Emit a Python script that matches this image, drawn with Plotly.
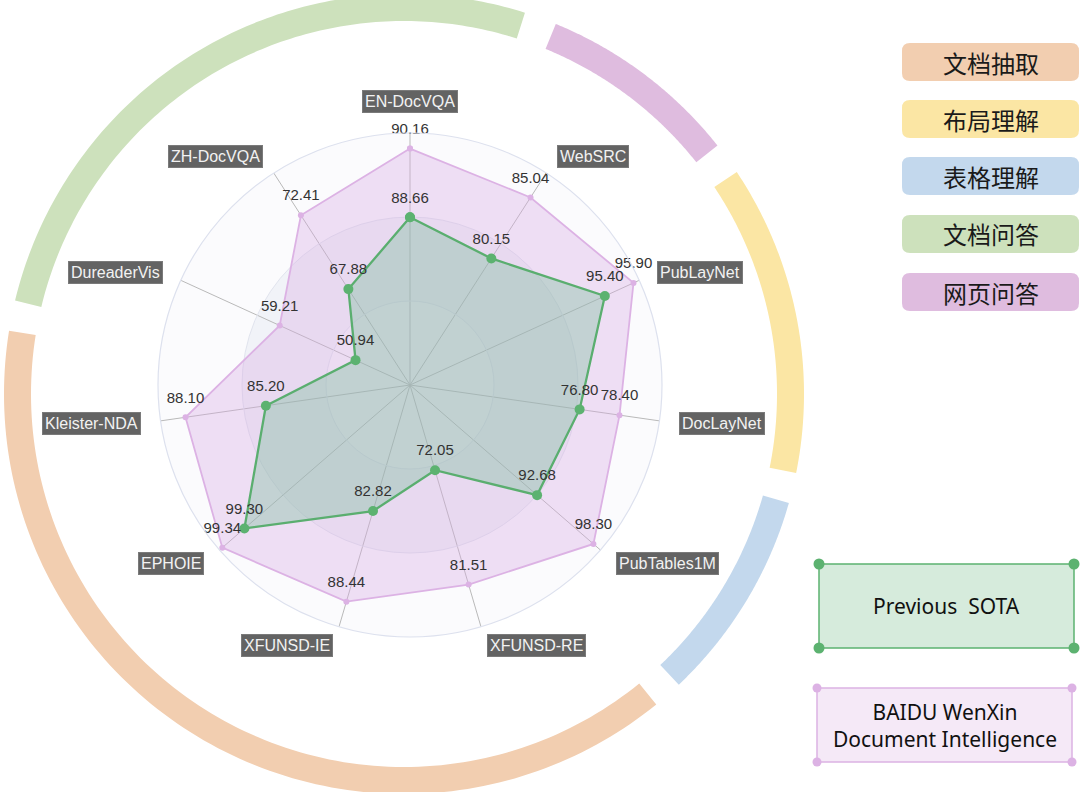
import math
import plotly.graph_objects as go

W, H = 1080, 792

# ---------------- data ----------------
labels = ["EN-DocVQA", "WebSRC", "PubLayNet", "DocLayNet", "PubTables1M", "XFUNSD-RE",
          "XFUNSD-IE", "EPHOIE", "Kleister-NDA", "DureaderVis", "ZH-DocVQA"]
previous_sota = [88.66, 80.15, 95.40, 76.80, 92.68, 72.05, 82.82, 99.30, 85.20, 50.94, 67.88]
wenxin = [90.16, 85.04, 95.90, 78.40, 98.30, 81.51, 88.44, 99.34, 88.10, 59.21, 72.41]
# per-indicator scale (radar indicator min / max)
axis_min = [85, 70, 92, 70, 80, 65, 75, 99.0, 80, 45, 62]
axis_max = [90.5, 87, 96, 80, 99, 85, 90, 99.345, 89, 70, 75]

task_groups = ["文档抽取", "布局理解", "表格理解", "文档问答", "网页问答"]
group_colors = ["#f2ceb0", "#fbe6a4", "#c3d8ed", "#cde1bc", "#dfbcdf"]
group_arc_start = [-50.9, 33.7, -15.8, 166.5, 67.7]
group_arc_end = [-189.1, -11.4, -46.6, 72.4, 38.4]

series_names = ["Previous  SOTA", "BAIDU WenXin<br>Document Intelligence"]

# ---------------- geometry helpers ----------------
CX, CY, R = 410, 385, 252          # radar centre / radius (px)
RCX, RCY, R_OUT, R_IN = 404, 394, 400, 373   # outer category ring


def X(px):
    return px / W


def Y(py):
    return 1 - py / H


def norm(vals):
    return [(v - lo) / (hi - lo) for v, lo, hi in zip(vals, axis_min, axis_max)]


def rounded_rect(x0, y0, x1, y1, rad):
    p = [
        ("M", x0 + rad, y0), ("L", x1 - rad, y0), ("Q", x1, y0, x1, y0 + rad),
        ("L", x1, y1 - rad), ("Q", x1, y1, x1 - rad, y1), ("L", x0 + rad, y1),
        ("Q", x0, y1, x0, y1 - rad), ("L", x0, y0 + rad), ("Q", x0, y0, x0 + rad, y0),
    ]
    out = []
    for seg in p:
        cmd = seg[0]
        coords = seg[1:]
        pts = []
        for i in range(0, len(coords), 2):
            pts.append(f"{X(coords[i]):.5f},{Y(coords[i + 1]):.5f}")
        out.append(cmd + " " + " ".join(pts))
    return " ".join(out) + " Z"


def arc_path(a0, a1, n=120):
    pts = []
    for k in range(n + 1):
        a = math.radians(a0 + (a1 - a0) * k / n)
        pts.append((RCX + R_OUT * math.cos(a), RCY - R_OUT * math.sin(a)))
    for k in range(n, -1, -1):
        a = math.radians(a0 + (a1 - a0) * k / n)
        pts.append((RCX + R_IN * math.cos(a), RCY - R_IN * math.sin(a)))
    s = "M " + " L ".join(f"{X(x):.5f},{Y(y):.5f}" for x, y in pts) + " Z"
    return s


f_prev = norm(previous_sota)
f_wx = norm(wenxin)
theta_closed = labels + [labels[0]]

fig = go.Figure()

# BAIDU WenXin polygon
fig.add_trace(go.Scatterpolar(
    r=f_wx + [f_wx[0]], theta=theta_closed, mode="lines+markers", fill="toself",
    fillcolor="rgba(214,168,226,0.35)", line=dict(color="#dcb2e4", width=1.8),
    marker=dict(size=6, color="#dcb2e4"), name=series_names[1], hoverinfo="skip"))
# Previous SOTA polygon
fig.add_trace(go.Scatterpolar(
    r=f_prev + [f_prev[0]], theta=theta_closed, mode="lines+markers", fill="toself",
    fillcolor="rgba(115,190,150,0.35)", line=dict(color="#5aae6f", width=2.3),
    marker=dict(size=10, color="#5cb270"), name=series_names[0], hoverinfo="skip"))
# value labels
for vals, fv in ((wenxin, f_wx), (previous_sota, f_prev)):
    fig.add_trace(go.Scatterpolar(
        r=fv, theta=labels, mode="markers+text", text=[f"{v:.2f}" for v in vals],
        textposition="top center", marker=dict(size=16, color="rgba(0,0,0,0)"),
        textfont=dict(size=15, color="#333333", family="Liberation Sans, Arial"),
        hoverinfo="skip"))

shapes = []
# split areas (below)
for rr, col in ((R, "#fbfbfd"), (R * 2 / 3, "#f1f3f8"), (R / 3, "#f7f8fb")):
    shapes.append(dict(type="circle", xref="paper", yref="paper", layer="below",
                       x0=X(CX - rr), x1=X(CX + rr), y0=Y(CY + rr), y1=Y(CY - rr),
                       fillcolor=col, line=dict(width=0)))
# outer category arcs
for col, a0, a1 in zip(group_colors, group_arc_start, group_arc_end):
    shapes.append(dict(type="path", xref="paper", yref="paper", path=arc_path(a0, a1),
                       fillcolor=col, line=dict(width=0), layer="below"))

annotations = []
# category legend boxes
box_tops = [43, 100, 157, 215, 273]
for name, col, top in zip(task_groups, group_colors, box_tops):
    shapes.append(dict(type="path", xref="paper", yref="paper",
                       path=rounded_rect(902, top, 1079, top + 38, 8),
                       fillcolor=col, line=dict(width=0)))
    annotations.append(dict(x=X(990.5), y=Y(top + 19), xref="paper", yref="paper",
                            text=name, showarrow=False, xanchor="center", yanchor="middle",
                            font=dict(size=24, color="#1a1a1a", family="Noto Sans CJK SC")))

# series legend boxes
legend_boxes = [
    (819, 564, 1074, 648, "#5cb270", "#d6ebdc", 11, series_names[0]),
    (817, 688, 1072, 762, "#dcb2e4", "#f5e9f7", 9, series_names[1]),
]
for x0, y0, x1, y1, lc, fc, ds, txt in legend_boxes:
    shapes.append(dict(type="rect", xref="paper", yref="paper", x0=X(x0), x1=X(x1),
                       y0=Y(y1), y1=Y(y0), fillcolor=fc, line=dict(color=lc, width=1.5)))
    for cx in (x0, x1):
        for cy in (y0, y1):
            shapes.append(dict(type="circle", xref="paper", yref="paper",
                               x0=X(cx - ds / 2), x1=X(cx + ds / 2),
                               y0=Y(cy + ds / 2), y1=Y(cy - ds / 2),
                               fillcolor=lc, line=dict(width=0)))
    annotations.append(dict(x=X((x0 + x1) / 2), y=Y((y0 + y1) / 2), xref="paper", yref="paper",
                            text=txt, showarrow=False, xanchor="center", yanchor="middle",
                            font=dict(size=21, color="#111111", family="Noto Sans"),
                            align="center"))

# indicator name boxes
n = len(labels)
for i, lab in enumerate(labels):
    a = math.radians(90 - i * 360 / n)
    ca, sa = math.cos(a), math.sin(a)
    px, py = CX + 272 * ca, CY - 272 * sa
    xa = "center" if abs(ca) < 0.05 else ("left" if ca > 0 else "right")
    ya = "bottom" if sa > 0.95 else "middle"
    annotations.append(dict(x=X(px), y=Y(py), xref="paper", yref="paper", text=lab,
                            showarrow=False, xanchor=xa, yanchor=ya,
                            bgcolor="#636363", bordercolor="#7a7a7a", borderwidth=1,
                            borderpad=2,
                            font=dict(size=16, color="#f2f2f2", family="Liberation Sans, Arial")))

fig.update_layout(
    width=W, height=H, margin=dict(l=0, r=0, t=0, b=0),
    paper_bgcolor="white", showlegend=False,
    polar=dict(
        domain=dict(x=[X(CX - R), X(CX + R)], y=[Y(CY + R), Y(CY - R)]),
        bgcolor="rgba(0,0,0,0)",
        angularaxis=dict(direction="clockwise", rotation=90, categoryorder="array",
                         categoryarray=labels, showticklabels=False, ticks="",
                         showgrid=True, gridcolor="#b9b9b9", gridwidth=1,
                         showline=True, linecolor="#dde1ee", linewidth=1.2),
        radialaxis=dict(range=[0, 1], showticklabels=False, ticks="", showline=False,
                        tickvals=[1 / 3, 2 / 3], gridcolor="#e1e4ee", gridwidth=1),
    ),
    shapes=shapes, annotations=annotations,
)

fig.write_html("out.html", config={"displayModeBar": False},
               post_script="document.body.style.margin='0';document.body.style.overflow='hidden';")
